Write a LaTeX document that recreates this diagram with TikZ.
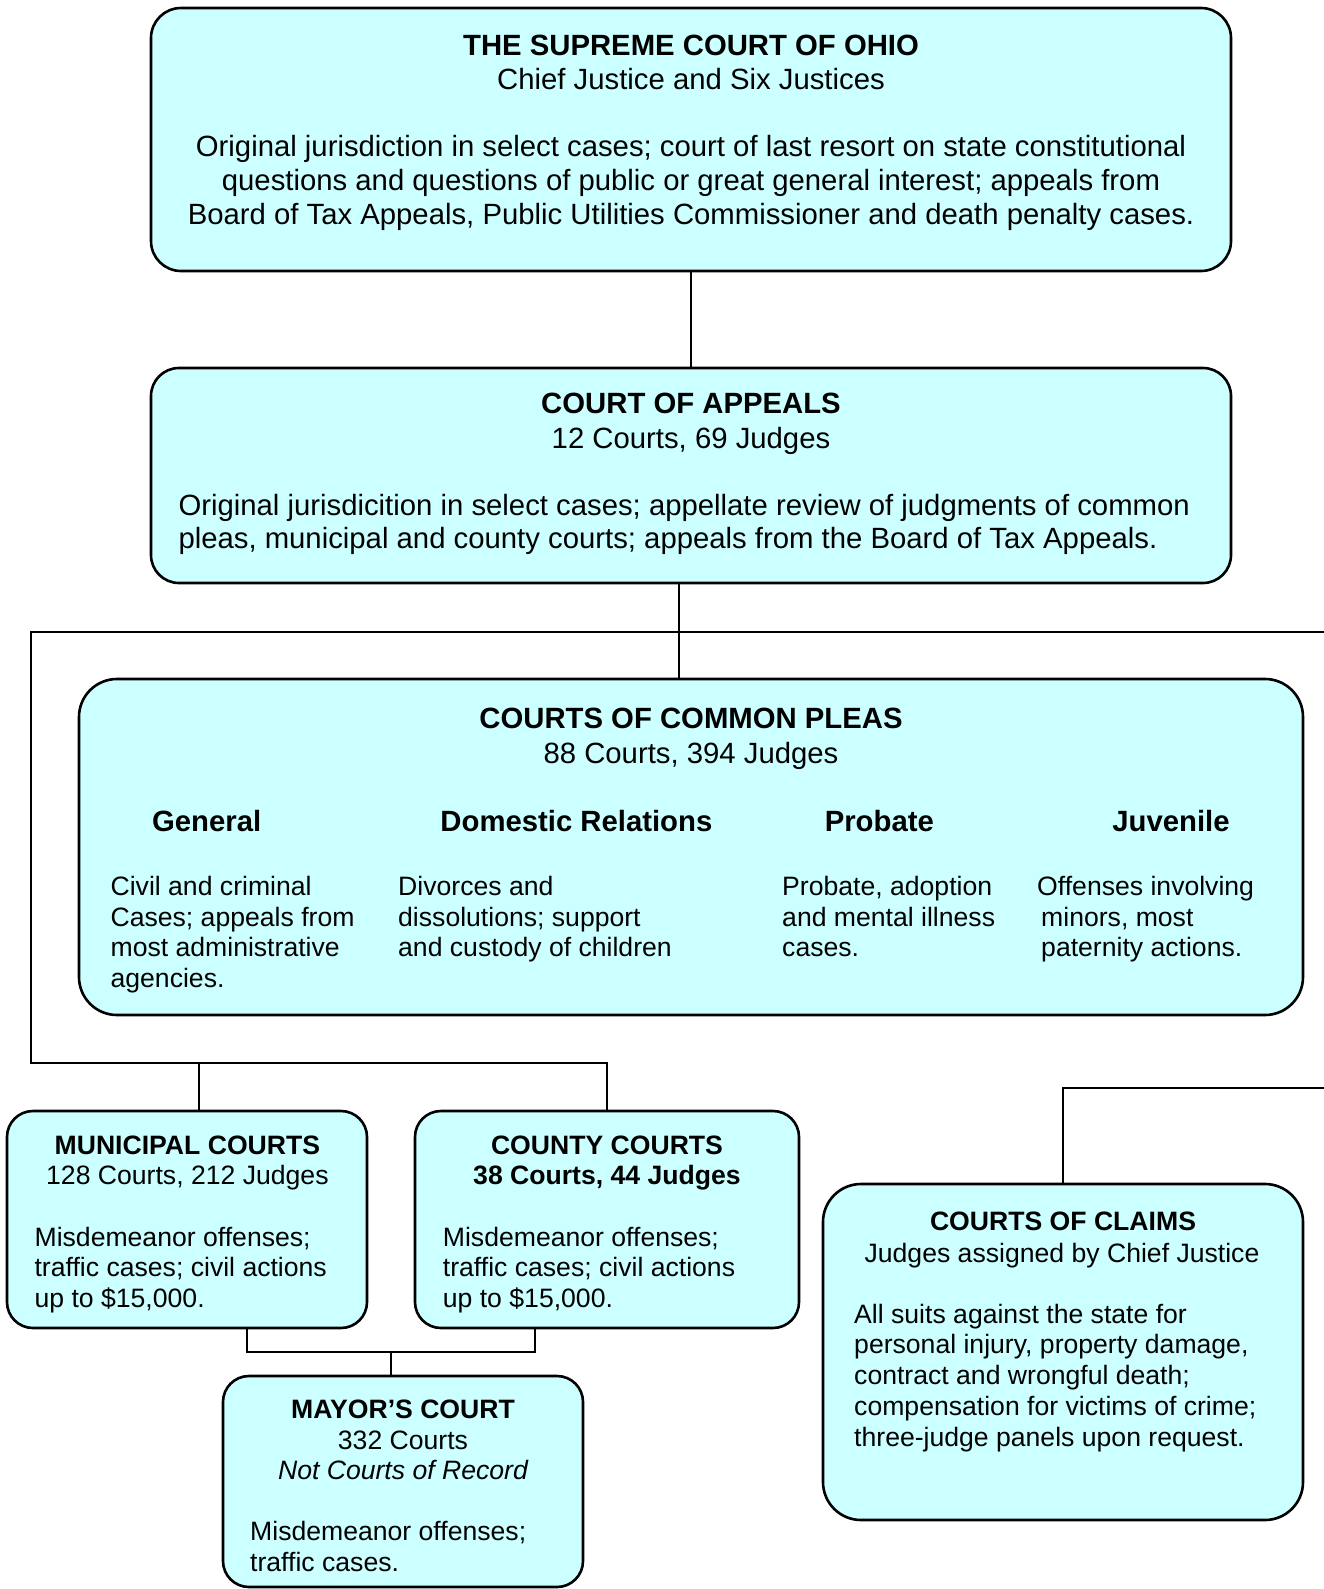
\documentclass[tikz,border=0pt]{standalone}
\usepackage{fontspec}
\setmainfont{Liberation Sans}
\definecolor{boxfill}{HTML}{CCFFFF}
\begin{document}
\begin{tikzpicture}[x=1pt,y=-1pt,
  courtbox/.style={draw=black, line width=2.6pt, fill=boxfill, inner sep=0pt, minimum width=#1},
  conn/.style={draw=black, line width=2.6pt, line cap=rect},
  big/.style={font=\fontsize{29.3}{34.4}\selectfont, inner sep=0pt},
  small/.style={font=\fontsize{26.6}{30.4}\selectfont, inner sep=0pt}]
\useasboundingbox (0,0) rectangle (1324,1589);

% ---------- boxes ----------
\node[courtbox=1080pt, minimum height=263pt, rounded corners=30pt] (sup) at (691,139.5) {};
\node[courtbox=1080pt, minimum height=215pt, rounded corners=28pt] (app) at (691,475.5) {};
\node[courtbox=1224pt, minimum height=336pt, rounded corners=38pt] (cp) at (691,847) {};
\node[courtbox=360pt, minimum height=217pt, rounded corners=26pt] (mun) at (187,1219.5) {};
\node[courtbox=384pt, minimum height=217pt, rounded corners=26pt] (cty) at (607,1219.5) {};
\node[courtbox=360pt, minimum height=211pt, rounded corners=26pt] (may) at (403,1481.5) {};
\node[courtbox=480pt, minimum height=336pt, rounded corners=38pt] (clm) at (1063,1352) {};

% ---------- connectors ----------
\coordinate (apx) at (679,632);
\coordinate (busL) at (31,632);
\coordinate (busR) at (1324,632);
\coordinate (lowL) at (31,1063);
\coordinate (lowR) at (607,1063);
\coordinate (munx) at (199,1063);
\coordinate (clmR) at (1324,1088);
\coordinate (botL) at (247,1352);
\coordinate (botR) at (535,1352);
\coordinate (botM) at (391,1352);

\draw[conn] (sup.south) -- (app.north);
\draw[conn] (apx |- app.south) -- (apx |- cp.north);
\draw[conn] (busR) -- (busL) -- (lowL) -- (lowR) -- (lowR |- cty.north);
\draw[conn] (munx) -- (munx |- mun.north);
\draw[conn] (clm.north) -- (clm.north |- clmR) -- (clmR);
\draw[conn] (botL |- mun.south) -- (botL) -- (botR) -- (botR |- cty.south);
\draw[conn] (botM) -- (botM |- may.north);

% ---------- Supreme Court ----------
\node[big, anchor=base] (sup1) at (691,55.1) {\bfseries THE SUPREME COURT OF OHIO};
\node[big, anchor=base] (sup2) at (691,89.5) {Chief Justice and Six Justices};
\node[big, anchor=base] (sup3) at (691,156.5) {Original jurisdiction in select cases; court of last resort on state constitutional};
\node[big, anchor=base] (sup4) at (691,190.5) {questions and questions of public or great general interest; appeals from};
\node[big, anchor=base] (sup5) at (691,224.5) {Board of Tax Appeals, Public Utilities Commissioner and death penalty cases.};

% ---------- Court of Appeals ----------
\node[big, anchor=base] (app1) at (691,413.5) {\bfseries COURT OF APPEALS};
\node[big, anchor=base] (app2) at (691,448) {12 Courts, 69 Judges};
\node[big, anchor=base west] (app3) at (178.3,515) {Original jurisdicition in select cases; appellate review of judgments of common};
\node[big, anchor=base west] (app4) at (178.3,548.5) {pleas, municipal and county courts; appeals from the Board of Tax Appeals.};

% ---------- Common Pleas ----------
\node[big, anchor=base] (cp1) at (691,728.5) {\bfseries COURTS OF COMMON PLEAS};
\node[big, anchor=base] (cp2) at (691,763) {88 Courts, 394 Judges};
\node[big, anchor=base] (cpg) at (206.7,831) {\bfseries General};
\node[big, anchor=base] (cpd) at (576.4,831) {\bfseries Domestic Relations};
\node[big, anchor=base] (cpp) at (879.3,831) {\bfseries Probate};
\node[big, anchor=base] (cpj) at (1171,831) {\bfseries Juvenile};

\node[small, anchor=base west] (g1) at (110.4,895) {Civil and criminal};
\node[small, anchor=base west] (g2) at (110.4,926.4) {Cases; appeals from};
\node[small, anchor=base west] (g3) at (110.4,956.8) {most administrative};
\node[small, anchor=base west] (g4) at (110.4,987.1) {agencies.};

\node[small, anchor=base west] (d1) at (398,895) {Divorces and};
\node[small, anchor=base west] (d2) at (398,926.4) {dissolutions; support};
\node[small, anchor=base west] (d3) at (398,956.8) {and custody of children};

\node[small, anchor=base west] (p1) at (782,895) {Probate, adoption};
\node[small, anchor=base west] (p2) at (782,926.4) {and mental illness};
\node[small, anchor=base west] (p3) at (782,956.8) {cases.};

\node[small, anchor=base west] (j1) at (1037,895) {Offenses involving};
\node[small, anchor=base west] (j2) at (1041,926.4) {minors, most};
\node[small, anchor=base west] (j3) at (1041,956.8) {paternity actions.};

% ---------- Municipal ----------
\node[small, anchor=base] (mun1) at (187.4,1154.3) {\bfseries MUNICIPAL COURTS};
\node[small, anchor=base] (mun2) at (187.4,1184.6) {128 Courts, 212 Judges};
\node[small, anchor=base west] (mun3) at (34.4,1246.6) {Misdemeanor offenses;};
\node[small, anchor=base west] (mun4) at (34.4,1276.9) {traffic cases; civil actions};
\node[small, anchor=base west] (mun5) at (34.4,1307.2) {up to \$15,000.};

% ---------- County ----------
\node[small, anchor=base] (cty1) at (607,1154.3) {\bfseries COUNTY COURTS};
\node[small, anchor=base] (cty2) at (607,1184.6) {\bfseries 38 Courts, 44 Judges};
\node[small, anchor=base west] (cty3) at (442.7,1246.6) {Misdemeanor offenses;};
\node[small, anchor=base west] (cty4) at (442.7,1276.9) {traffic cases; civil actions};
\node[small, anchor=base west] (cty5) at (442.7,1307.2) {up to \$15,000.};

% ---------- Mayor ----------
\node[small, anchor=base] (may1) at (403,1418.6) {\bfseries MAYOR’S COURT};
\node[small, anchor=base] (may2) at (403,1449.1) {332 Courts};
\node[small, anchor=base] (may3) at (403,1479.6) {\itshape Not Courts of Record};
\node[small, anchor=base west] (may4) at (250,1540.2) {Misdemeanor offenses;};
\node[small, anchor=base west] (may5) at (250,1571.6) {traffic cases.};

% ---------- Claims ----------
\node[small, anchor=base] (clm1) at (1063,1230.3) {\bfseries COURTS OF CLAIMS};
\node[small, anchor=base] (clm2) at (1062,1262.6) {Judges assigned by Chief Justice};
\node[small, anchor=base west] (clm3) at (854,1323.6) {All suits against the state for};
\node[small, anchor=base west] (clm4) at (854,1353.9) {personal injury, property damage,};
\node[small, anchor=base west] (clm5) at (854,1384.3) {contract and wrongful death;};
\node[small, anchor=base west] (clm6) at (854,1415.6) {compensation for victims of crime;};
\node[small, anchor=base west] (clm7) at (854,1446) {three-judge panels upon request.};
\end{tikzpicture}
\end{document}
